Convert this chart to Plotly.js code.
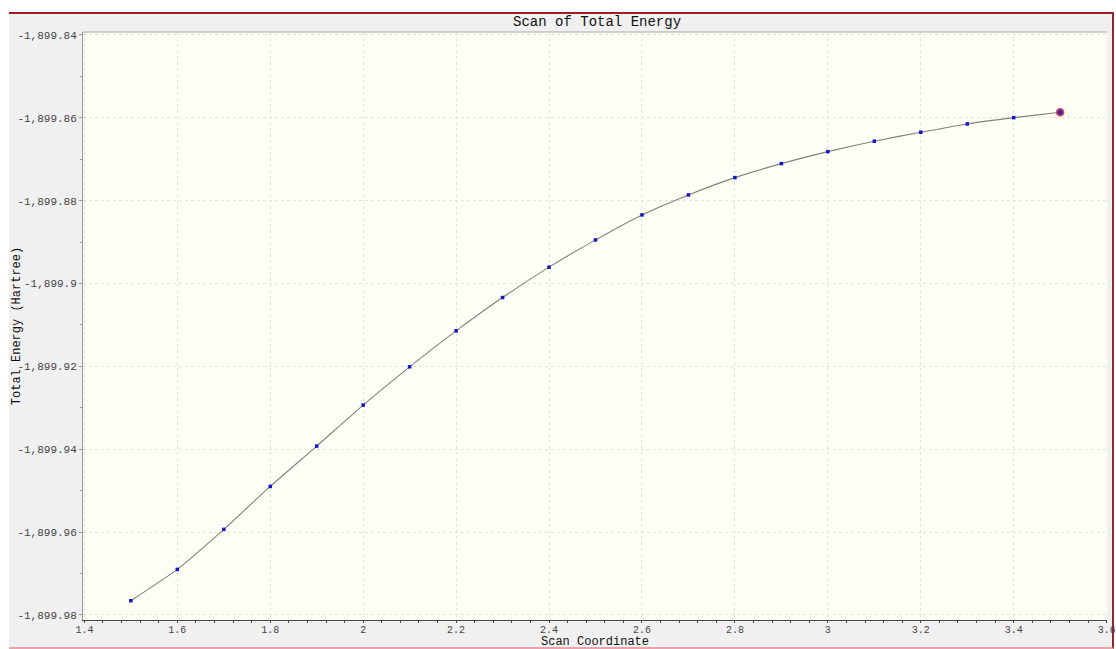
<!DOCTYPE html>
<html>
<head>
<meta charset="utf-8">
<script src="https://cdn.plot.ly/plotly-3.0.1.min.js"></script>
<style>
  html, body { margin: 0; padding: 0; background: #ffffff; width: 1116px; height: 649px; overflow: hidden; }
  #frame { position: absolute; left: 9px; top: 12px; width: 1103px; height: 633px;
           background: #f0f0f0; border-top: 2px solid #9c1f24; border-right: 2px solid #8a2a2e;
           border-bottom: 2px solid #e9a3ad; }
  #chart { position: absolute; left: 0; top: 0; width: 1116px; height: 649px; }
</style>
</head>
<body>
<div id="frame"></div>
<div id="chart"></div>
<script>
// Scan coordinate values
const scanCoordinate = [1.5, 1.6, 1.7, 1.8, 1.9, 2.0, 2.1, 2.2, 2.3, 2.4, 2.5,
                        2.6, 2.7, 2.8, 2.9, 3.0, 3.1, 3.2, 3.3, 3.4, 3.5];
// Total energy (Hartree)
const totalEnergy = [-1899.97655, -1899.96900, -1899.95934, -1899.94897, -1899.93923,
                     -1899.92933, -1899.92010, -1899.91141, -1899.90338, -1899.89604,
                     -1899.88946, -1899.88343, -1899.87860, -1899.87443, -1899.87105,
                     -1899.86815, -1899.86564, -1899.86347, -1899.86147, -1899.85995,
                     -1899.85865];
// Y tick labels
const yTickVals = [-1899.84, -1899.86, -1899.88, -1899.90, -1899.92, -1899.94, -1899.96, -1899.98];
const yTickText = ["-1,899.84", "-1,899.86", "-1,899.88", "-1,899.9", "-1,899.92", "-1,899.94", "-1,899.96", "-1,899.98"];
// X tick labels
const xTickVals = [1.4, 1.6, 1.8, 2.0, 2.2, 2.4, 2.6, 2.8, 3.0, 3.2, 3.4, 3.6];
const xTickText = ["1.4", "1.6", "1.8", "2", "2.2", "2.4", "2.6", "2.8", "3", "3.2", "3.4", "3.6"];

const FONT = "Liberation Mono, DejaVu Sans Mono, monospace";
const lastIdx = scanCoordinate.length - 1;

const traces = [
  {
    x: scanCoordinate, y: totalEnergy, type: "scatter", mode: "lines+markers",
    line: { color: "#808080", width: 1.1, shape: "spline", smoothing: 0.6 },
    marker: { symbol: "square", size: 3.5, color: "#1414cc" },
    hoverinfo: "x+y", showlegend: false
  },
  {
    x: [scanCoordinate[lastIdx]], y: [totalEnergy[lastIdx]], type: "scatter", mode: "markers",
    marker: { symbol: "circle", size: 7, color: "#3a2aa0", line: { color: "#e0405a", width: 1.6 } },
    hoverinfo: "x+y", showlegend: false
  }
];

const layout = {
  width: 1116, height: 649,
  margin: { l: 83, r: 9, t: 32, b: 29, pad: 0 },
  paper_bgcolor: "rgba(0,0,0,0)",
  plot_bgcolor: "#fefef5",
  font: { family: FONT, color: "#333333", size: 11 },
  title: { text: "Scan of Total Energy", font: { family: FONT, size: 14, color: "#111111" },
           x: 0.535, xanchor: "center", xref: "container", y: 0.9676, yanchor: "middle", yref: "container" },
  xaxis: {
    range: [1.397, 3.6008], tickmode: "array", tickvals: xTickVals, ticktext: xTickText,
    showline: true, linecolor: "#4a4a4a", linewidth: 1,
    ticks: "outside", ticklen: 2, tickcolor: "#4a4a4a",
    tickfont: { family: FONT, size: 10, color: "#444444" },
    ticklabelstandoff: -2,
    showgrid: true, gridcolor: "#e3e3dc", griddash: "dot", gridwidth: 1,
    zeroline: false,
    minor: { dtick: 0.04, tick0: 1.4, ticks: "outside", ticklen: 2, tickcolor: "#4a4a4a", showgrid: false },
    title: { text: "Scan Coordinate", font: { family: FONT, size: 12, color: "#111111" }, standoff: 0 },
    automargin: false
  },
  yaxis: {
    range: [-1899.98121, -1899.83928], tickmode: "array", tickvals: yTickVals, ticktext: yTickText,
    showline: true, linecolor: "#9a9a9a", linewidth: 1,
    ticks: "outside", ticklen: 3, tickcolor: "#9a9a9a",
    tickfont: { family: FONT, size: 11, color: "#444444" },
    showgrid: true, gridcolor: "#e3e3dc", griddash: "dot", gridwidth: 1,
    zeroline: false,
    minor: { dtick: 0.01, tick0: -1899.98, ticks: "outside", ticklen: 2, tickcolor: "#9a9a9a", showgrid: false },
    title: { text: "Total Energy (Hartree)", font: { family: FONT, size: 12, color: "#111111" }, standoff: 4 },
    automargin: false
  },
  shapes: [
    { type: "line", xref: "paper", yref: "paper", x0: 0, x1: 1, y0: 1, y1: 1,
      line: { color: "#a8a8a8", width: 1 } }
  ]
};

Plotly.newPlot("chart", traces, layout, { displayModeBar: false }).then(function (gd) {
  // shift the y-axis title slightly right, closer to the tick labels as in the reference
  const yt = gd.querySelector(".g-ytitle");
  if (yt) { yt.setAttribute("transform", "translate(10,0)"); }
  // keep the x-axis title just below the tick labels
  const xt = gd.querySelector(".g-xtitle");
  if (xt) { xt.setAttribute("transform", "translate(0,1)"); }
});
</script>
</body>
</html>
